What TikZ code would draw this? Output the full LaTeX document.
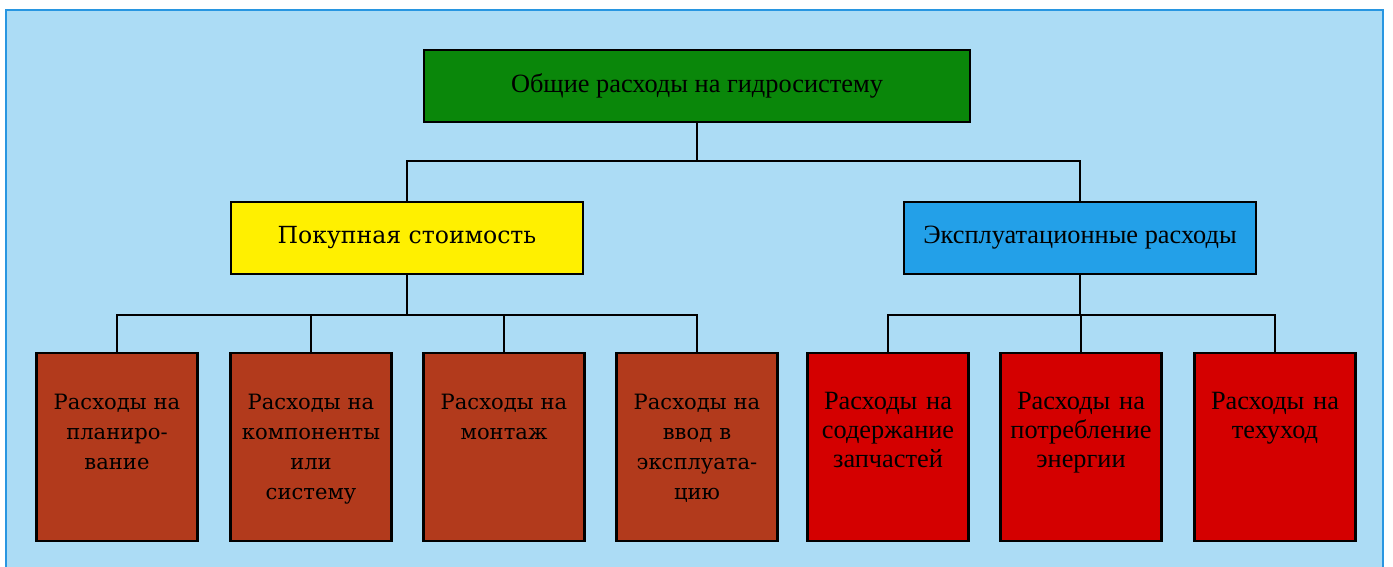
\documentclass[tikz,border=0pt]{standalone}
\usepackage{fontspec}
\setmainfont{Liberation Serif}
\newfontfamily\roundserif{DejaVu Serif}
\usetikzlibrary{positioning}
\definecolor{sky}{RGB}{172,220,245}
\definecolor{frame blue}{RGB}{40,150,225}
\definecolor{leaf green}{RGB}{10,135,10}
\definecolor{buy yellow}{RGB}{255,240,0}
\definecolor{run blue}{RGB}{35,160,232}
\definecolor{rust}{RGB}{178,58,28}
\definecolor{run red}{RGB}{212,0,0}
\tikzstyle{head} = [draw=black,line width=1.4pt,minimum height=1.44cm,inner sep=0pt]
\tikzstyle{cost} = [draw=black,line width=1.4pt,minimum width=3.22cm,minimum height=3.76cm,text width=3.1cm,align=center,text height=0.4cm,text depth=1.9cm,inner xsep=0pt,inner ysep=0.73cm]
\tikzstyle{wire} = [line width=0.8pt]

\begin{document}
\begin{tikzpicture}[x=0.02cm,y=-0.02cm]
		\useasboundingbox (0,0) rectangle (1393,567);
		\fill[sky] (6,10) rectangle (1383,567);
		\draw[frame blue,line width=1.2pt] (6,567) -- (6,10) -- (1383,10) -- (1383,567);
		
		\node[head,fill=leaf green,minimum width=10.92cm,font=\fontsize{15}{18}\selectfont] (top) at (697,86) {Общие расходы на гидросистему};
		\node[head,fill=buy yellow,minimum width=7.04cm,font=\fontsize{13.4}{17}\selectfont\roundserif] (buy) at (407,238) {Покупная стоимость};
		\node[head,fill=run blue,minimum width=7.04cm,font=\fontsize{15}{18}\selectfont] (use) at (1080,238) {Эксплуатационные расходы};
		
		\node[cost,fill=rust,font=\fontsize{12}{17}\selectfont\roundserif] (p1) at (117,447) {Расходы на\\планиро-\\вание};
		\node[cost,fill=rust,font=\fontsize{12}{17}\selectfont\roundserif] (p2) at (311,447) {Расходы на\\компоненты\\или\\систему};
		\node[cost,fill=rust,font=\fontsize{12}{17}\selectfont\roundserif] (p3) at (504,447) {Расходы на\\монтаж};
		\node[cost,fill=rust,font=\fontsize{12}{17}\selectfont\roundserif] (p4) at (697,447) {Расходы на\\ввод в\\эксплуата-\\цию};
		
		\node[cost,fill=run red,font=\fontsize{15}{16.5}\selectfont] (e1) at (888,447) {Расходы на\\содержание\\запчастей};
		\node[cost,fill=run red,font=\fontsize{15}{16.5}\selectfont] (e2) at (1081,447) {Расходы на\\потребление\\энергии};
		\node[cost,fill=run red,font=\fontsize{15}{16.5}\selectfont] (e3) at (1275,447) {Расходы на\\техуход};
		
		\coordinate (bus1) at (697,161);
		\coordinate (bus2) at (407,315);
		\coordinate (bus3) at (1080,315);
		\draw[wire] (top) to (bus1) (bus1) -| (buy) (bus1) -| (use);
		\draw[wire] (buy) to (bus2) (bus2) -| (p1) (bus2) -| (p2) (bus2) -| (p3) (bus2) -| (p4);
		\draw[wire] (use) to (bus3) (bus3) -| (e1) (bus3) -| (e2) (bus3) -| (e3);
	\end{tikzpicture}
\end{document}
